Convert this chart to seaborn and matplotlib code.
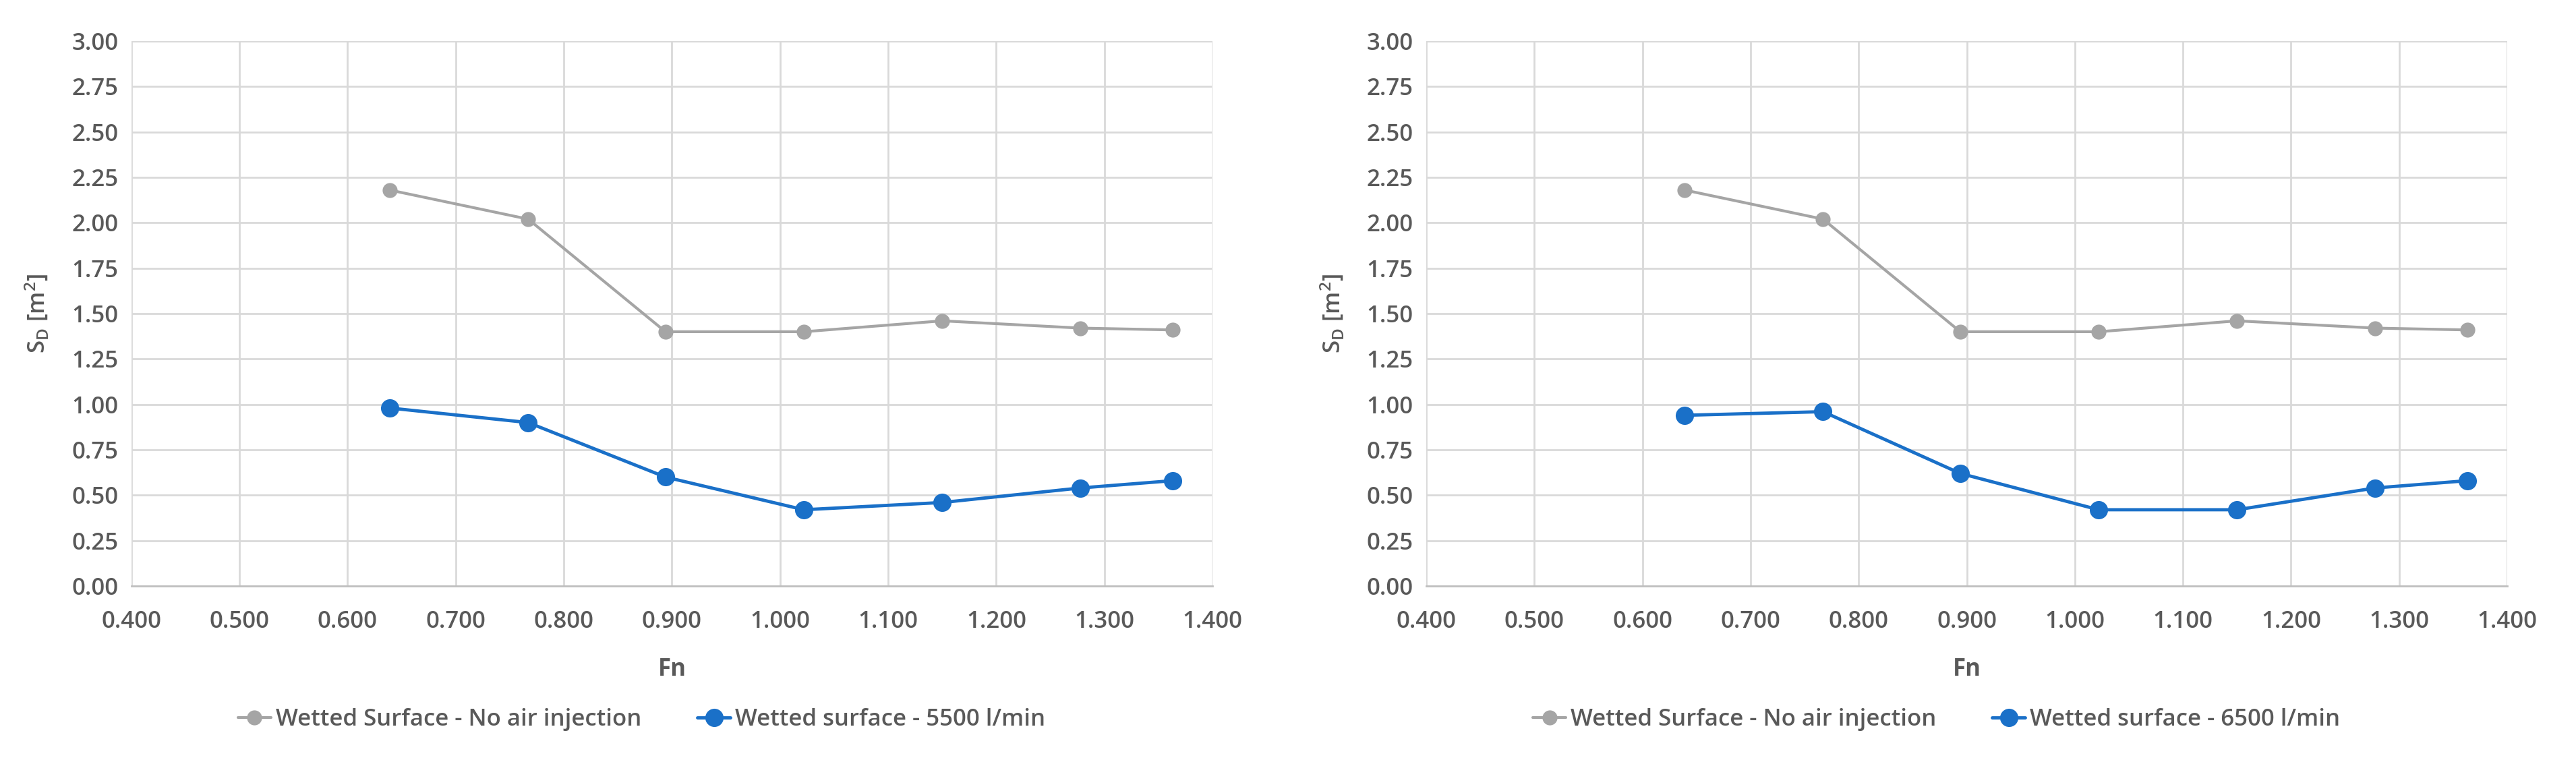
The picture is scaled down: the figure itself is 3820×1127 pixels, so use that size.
import seaborn as sns
import matplotlib
matplotlib.use('Agg')
import matplotlib.pyplot as plt
import pandas as pd
from matplotlib.ticker import FormatStrFormatter
from matplotlib.lines import Line2D

# Froude numbers (shared by both panels)
fn = [0.639, 0.767, 0.894, 1.022, 1.150, 1.278, 1.363]
wetted_no_air = [2.18, 2.02, 1.40, 1.40, 1.46, 1.42, 1.41]
wetted_5500 = [0.98, 0.90, 0.60, 0.42, 0.46, 0.54, 0.58]
wetted_6500 = [0.94, 0.96, 0.62, 0.42, 0.42, 0.54, 0.58]
label_no_air = "Wetted Surface - No air injection"
label_5500 = "Wetted surface - 5500 l/min"
label_6500 = "Wetted surface - 6500 l/min"

GRAY = "#A5A5A5"
BLUE = "#1A70C8"
TEXT = "#595959"
GRID = "#D9D9D9"

sns.set_style("white")
plt.rcParams['font.family'] = ['Open Sans', 'DejaVu Sans']
plt.rcParams['font.weight'] = 'semibold'
plt.rcParams['mathtext.default'] = 'regular'

fig = plt.figure(figsize=(38.2, 11.27), dpi=100)
panels = [
    (fig.add_axes([0.0510, 0.2289, 0.4197, 0.7170]), wetted_5500, label_5500),
    (fig.add_axes([0.5537, 0.2289, 0.4196, 0.7170]), wetted_6500, label_6500),
]

for ax, blue_vals, blue_label in panels:
    df = pd.DataFrame({"Fn": fn, "ref": wetted_no_air, "air": blue_vals})
    sns.lineplot(data=df, x="Fn", y="ref", ax=ax, color=GRAY, lw=3,
                 marker="o", markersize=16, markeredgewidth=0)
    sns.lineplot(data=df, x="Fn", y="air", ax=ax, color=BLUE, lw=3.5,
                 marker="o", markersize=19.5, markeredgewidth=0)
    ax.set_xlim(0.4, 1.4)
    ax.set_ylim(0, 3.0)
    ax.set_xticks([0.4 + 0.1 * i for i in range(11)])
    ax.set_yticks([0.25 * i for i in range(13)])
    ax.xaxis.set_major_formatter(FormatStrFormatter('%.3f'))
    ax.yaxis.set_major_formatter(FormatStrFormatter('%.2f'))
    ax.grid(True, color=GRID, lw=2)
    ax.set_axisbelow(True)
    for side in ["top", "right", "left"]:
        ax.spines[side].set_visible(False)
    ax.spines["bottom"].set_color("#BFBFBF")
    ax.spines["bottom"].set_linewidth(2)
    ax.tick_params(axis="both", length=0, labelsize=25, labelcolor=TEXT)
    ax.tick_params(axis="x", pad=26)
    ax.tick_params(axis="y", pad=14)
    for lab in ax.get_xticklabels() + ax.get_yticklabels():
        lab.set_fontweight("semibold")
    ax.set_xlabel("Fn", fontsize=25, color=TEXT, fontweight="bold", labelpad=26)
    ax.set_ylabel(r"S$_{D}$ [m$^{2}$]", fontsize=25, color=TEXT,
                  fontweight="semibold", labelpad=22)
    handles = [
        Line2D([], [], color=GRAY, lw=3, marker="o", markersize=16, markeredgewidth=0),
        Line2D([], [], color=BLUE, lw=3.5, marker="o", markersize=19.5, markeredgewidth=0),
    ]
    leg = ax.legend(handles, [label_no_air, blue_label], loc="center",
                    bbox_to_anchor=(0.472, -0.245), ncol=2, frameon=False,
                    fontsize=25, handlelength=1.4, handletextpad=0.2,
                    columnspacing=2.4)
    for t in leg.get_texts():
        t.set_color(TEXT)
        t.set_fontweight("semibold")

fig.savefig("out.png", dpi=100)
